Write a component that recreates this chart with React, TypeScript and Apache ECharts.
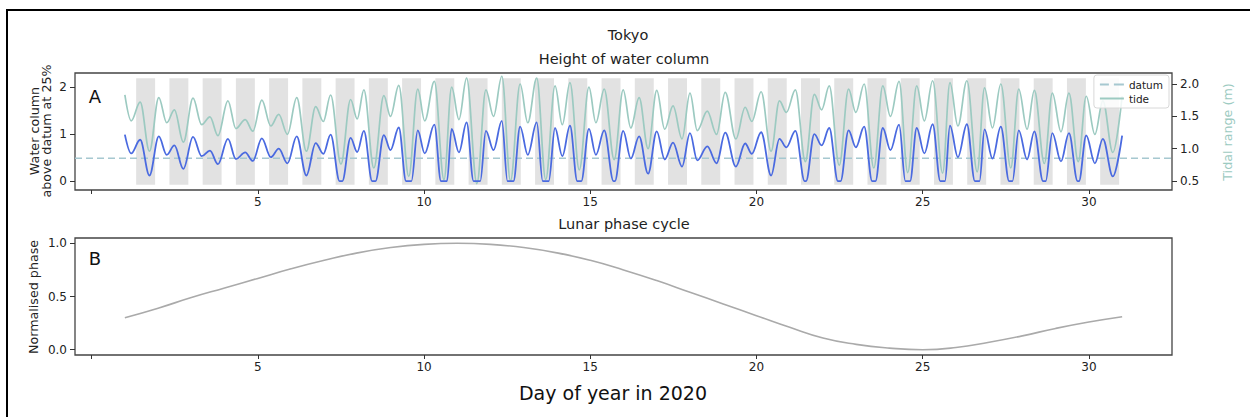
import React, { useEffect, useRef } from "react";
import * as echarts from "echarts";

// ---- data ----
// Tide (m): successive highs and lows [day, value]
const tideExtrema: [number, number][] = [
  [1.00, 1.83], [1.19, 1.43], [1.46, 1.72], [1.74, 0.96],
  [2.02, 1.79], [2.26, 1.40], [2.49, 1.60], [2.76, 1.10],
  [3.05, 1.78], [3.31, 1.37], [3.56, 1.49], [3.80, 1.20],
  [4.10, 1.74], [4.34, 1.31], [4.62, 1.45], [4.85, 1.27],
  [5.12, 1.75], [5.39, 1.35], [5.63, 1.53], [5.89, 1.22],
  [6.17, 1.79], [6.46, 0.96], [6.74, 1.65], [6.97, 1.42],
  [7.19, 1.83], [7.50, 0.76], [7.79, 1.76], [7.99, 1.46],
  [8.19, 1.91], [8.49, 0.70], [8.79, 1.82], [8.99, 1.50],
  [9.24, 1.98], [9.54, 0.57], [9.81, 1.92], [10.02, 1.43],
  [10.31, 2.04], [10.60, 0.52], [10.83, 1.95], [11.05, 1.45],
  [11.28, 2.09], [11.59, 0.46], [11.86, 1.91], [12.09, 1.50],
  [12.34, 2.12], [12.60, 0.50], [12.89, 2.00], [13.12, 1.40],
  [13.39, 2.09], [13.66, 0.52], [13.94, 1.97], [14.16, 1.37],
  [14.39, 2.02], [14.67, 0.67], [14.96, 1.95], [15.17, 1.40],
  [15.42, 1.92], [15.72, 0.83], [15.99, 1.91], [16.22, 1.32],
  [16.47, 1.79], [16.74, 1.00], [17.00, 1.90], [17.24, 1.30],
  [17.49, 1.66], [17.76, 1.15], [18.00, 1.86], [18.22, 1.28],
  [18.52, 1.58], [18.80, 1.22], [19.06, 1.87], [19.38, 1.15],
  [19.66, 1.64], [19.86, 1.42], [20.14, 1.88], [20.44, 0.96],
  [20.69, 1.74], [20.90, 1.56], [21.17, 1.91], [21.47, 0.80],
  [21.74, 1.84], [21.96, 1.60], [22.19, 1.97], [22.49, 0.74],
  [22.77, 1.92], [22.99, 1.56], [23.24, 2.00], [23.53, 0.70],
  [23.80, 1.97], [24.03, 1.50], [24.29, 2.04], [24.55, 0.63],
  [24.82, 1.97], [25.05, 1.43], [25.30, 2.05], [25.60, 0.62],
  [25.82, 2.02], [26.06, 1.35], [26.33, 2.05], [26.64, 0.64],
  [26.86, 1.94], [27.10, 1.32], [27.35, 2.00], [27.65, 0.70],
  [27.89, 1.92], [28.14, 1.30], [28.36, 1.90], [28.66, 0.77],
  [28.90, 1.86], [29.16, 1.26], [29.40, 1.86], [29.68, 0.80],
  [29.92, 1.81], [30.18, 1.22], [30.42, 1.74], [30.72, 0.94],
  [31.00, 1.81],
];

// Water column above datum (m): highs, lows and the flat stretches at zero
const waterColumn: [number, number][] = [
  [1.00, 0.99], [1.19, 0.59], [1.46, 0.88], [1.74, 0.12],
  [2.02, 0.95], [2.26, 0.56], [2.49, 0.76], [2.76, 0.26],
  [3.05, 0.94], [3.31, 0.53], [3.56, 0.65], [3.80, 0.36],
  [4.10, 0.90], [4.34, 0.47], [4.62, 0.61], [4.85, 0.43],
  [5.12, 0.91], [5.39, 0.51], [5.63, 0.69], [5.89, 0.38],
  [6.17, 0.95], [6.46, 0.12], [6.74, 0.81], [6.97, 0.58],
  [7.19, 0.99], [7.46, 0], [7.54, 0], [7.79, 0.92], [7.99, 0.62],
  [8.19, 1.07], [8.44, 0], [8.54, 0], [8.79, 0.98], [8.99, 0.66],
  [9.24, 1.14], [9.46, 0], [9.62, 0], [9.81, 1.08], [10.02, 0.59],
  [10.31, 1.20], [10.51, 0], [10.69, 0], [10.83, 1.11], [11.05, 0.61],
  [11.28, 1.25], [11.49, 0], [11.69, 0], [11.86, 1.07], [12.09, 0.66],
  [12.34, 1.28], [12.51, 0], [12.69, 0], [12.89, 1.16], [13.12, 0.56],
  [13.39, 1.25], [13.57, 0], [13.75, 0], [13.94, 1.13], [14.16, 0.53],
  [14.39, 1.18], [14.61, 0], [14.73, 0], [14.96, 1.11], [15.17, 0.56],
  [15.42, 1.08], [15.70, 0], [15.74, 0], [15.99, 1.07], [16.22, 0.48],
  [16.47, 0.95], [16.74, 0.16], [17.00, 1.06], [17.24, 0.46],
  [17.49, 0.82], [17.76, 0.31], [18.00, 1.02], [18.22, 0.44],
  [18.52, 0.74], [18.80, 0.38], [19.06, 1.03], [19.38, 0.31],
  [19.66, 0.80], [19.86, 0.58], [20.14, 1.04], [20.44, 0.12],
  [20.69, 0.90], [20.90, 0.72], [21.17, 1.07], [21.45, 0], [21.49, 0],
  [21.74, 1.00], [21.96, 0.76], [22.19, 1.13], [22.45, 0], [22.53, 0],
  [22.77, 1.08], [22.99, 0.72], [23.24, 1.16], [23.48, 0], [23.58, 0],
  [23.80, 1.13], [24.03, 0.66], [24.29, 1.20], [24.48, 0], [24.62, 0],
  [24.82, 1.13], [25.05, 0.59], [25.30, 1.21], [25.53, 0], [25.67, 0],
  [25.82, 1.18], [26.06, 0.51], [26.33, 1.21], [26.57, 0], [26.71, 0],
  [26.86, 1.10], [27.10, 0.48], [27.35, 1.16], [27.60, 0], [27.70, 0],
  [27.89, 1.08], [28.14, 0.46], [28.36, 1.06], [28.62, 0], [28.70, 0],
  [28.90, 1.02], [29.16, 0.42], [29.40, 1.02], [29.66, 0], [29.70, 0],
  [29.92, 0.97], [30.18, 0.38], [30.42, 0.90], [30.72, 0.10],
  [31.00, 0.97],
];

const datumLevel = 0.85;
const datumSpan = [-0.5, 32.5];

// Night periods (grey bands), in days
const nightStart = [1.34, 2.34, 3.34, 4.34, 5.34, 6.34, 7.34, 8.34, 9.34, 10.34,
  11.34, 12.34, 13.34, 14.34, 15.34, 16.34, 17.34, 18.34, 19.34, 20.34,
  21.34, 22.34, 23.34, 24.34, 25.34, 26.34, 27.34, 28.34, 29.34, 30.34];
const nightEnd = [1.91, 2.91, 3.91, 4.91, 5.91, 6.91, 7.91, 8.91, 9.91, 10.91,
  11.91, 12.91, 13.91, 14.91, 15.91, 16.91, 17.91, 18.91, 19.91, 20.91,
  21.91, 22.91, 23.91, 24.91, 25.91, 26.91, 27.91, 28.91, 29.91, 30.91];
const nightBottom = -0.075;
const nightTop = 2.186;

// Lunar phase
const phaseDays = [1, 2, 3, 4, 5, 6, 7, 8, 9, 10, 11, 12, 13, 14, 15, 16,
  17, 18, 19, 20, 21, 22, 23, 24, 25, 26, 27, 28, 29, 30, 31];
const phaseValues = [0.30, 0.39, 0.49, 0.58, 0.67, 0.76, 0.84, 0.91, 0.96, 0.99,
  1.00, 0.99, 0.96, 0.91, 0.84, 0.75, 0.65, 0.54, 0.43, 0.32, 0.21, 0.11, 0.05,
  0.015, 0.0, 0.02, 0.07, 0.13, 0.20, 0.26, 0.31];

const xTicks = [0, 5, 10, 15, 20, 25, 30];
const xTickLabels = [5, 10, 15, 20, 25, 30];
const leftTicksA = [0, 1, 2];
const rightTicksA = [0.5, 1.0, 1.5, 2.0];
const ticksB = [0, 0.5, 1.0];

const FONT = "DejaVu Sans";
const TEAL = "#9ccac1";
const DATUM = "#a6c8d0";
const BLUE = "#4a6ae0";
const TICK_FS = 12;
const LABEL_FS = 12.7;
const TITLE_FS = 14.5;

export default function App() {
  const ref = useRef<HTMLDivElement>(null);
  useEffect(() => {
    if (!ref.current) return;
    const chart = echarts.init(ref.current, undefined, { renderer: "svg" });

    const xAxisBase = (gridIndex: number) => ({
      type: "value",
      gridIndex,
      min: -0.5,
      max: 32.5,
      position: "bottom",
      axisLine: { show: false, onZero: false },
      splitLine: { show: false },
      axisTick: { show: true, length: 4, customValues: xTicks, lineStyle: { color: "#333", width: 1 } },
      axisLabel: { customValues: xTickLabels, margin: 6, color: "#222", fontSize: TICK_FS, fontFamily: FONT },
    });

    const yAxisBase = (gridIndex: number, min: number, max: number, position: string, ticks: number[], fmt?: (v: number) => string) => ({
      type: "value", gridIndex, min, max, position,
      axisLine: { show: false, onZero: false }, splitLine: { show: false },
      axisTick: { show: true, length: 5, customValues: ticks, lineStyle: { color: "#333" } },
      axisLabel: { customValues: ticks, margin: 8, color: "#222", fontSize: TICK_FS, fontFamily: FONT, formatter: fmt },
    });

    const bandData = nightStart.map((s, i) => [
      { xAxis: s, yAxis: nightBottom },
      { xAxis: nightEnd[i], yAxis: nightTop },
    ]);

    const oneDec = (v: number) => v.toFixed(1);

    const option: any = {
      animation: false,
      backgroundColor: "#fff",
      grid: [
        { left: 75, top: 73, width: 1097, height: 117, show: true, borderColor: "#444", borderWidth: 1.3, backgroundColor: "transparent" },
        { left: 75, top: 238, width: 1097, height: 117, show: true, borderColor: "#444", borderWidth: 1.3, backgroundColor: "transparent" },
      ],
      xAxis: [xAxisBase(0), xAxisBase(1)],
      yAxis: [
        yAxisBase(0, -0.188, 2.299, "left", leftTicksA),
        yAxisBase(0, 0.36, 2.17, "right", rightTicksA, oneDec),
        yAxisBase(1, -0.05, 1.05, "left", ticksB, oneDec),
      ],
      legend: {
        data: [
          { name: "datum", icon: "path://M0,0h9v2h-9zM14,0h10v2h-10z" },
          { name: "tide", icon: "path://M0,0h24v2h-24z" },
        ],
        orient: "vertical",
        right: 81,
        top: 75,
        itemWidth: 24,
        itemHeight: 2,
        symbolKeepAspect: false,
        itemGap: 3,
        padding: [4, 6, 4, 6],
        borderColor: "#d8d8d8",
        borderWidth: 1,
        borderRadius: 3,
        backgroundColor: "rgba(255,255,255,0.85)",
        textStyle: { fontSize: 10.5, fontFamily: FONT, color: "#222" },
      },
      series: [
        {
          name: "nights",
          type: "line",
          xAxisIndex: 0,
          yAxisIndex: 0,
          data: [],
          z: 1,
          silent: true,
          markArea: {
            silent: true,
            itemStyle: { color: "#e2e2e2", opacity: 1 },
            data: bandData,
          },
        },
        {
          name: "datum",
          type: "line",
          xAxisIndex: 0,
          yAxisIndex: 1,
          data: datumSpan.map((x) => [x, datumLevel]),
          symbol: "none",
          z: 2,
          lineStyle: { color: DATUM, width: 1.5, type: [7, 4] },
          itemStyle: { color: DATUM },
        },
        {
          name: "tide",
          type: "line",
          xAxisIndex: 0,
          yAxisIndex: 1,
          data: tideExtrema,
          symbol: "none",
          smooth: 0.36,
          smoothMonotone: "x",
          z: 3,
          lineStyle: { color: TEAL, width: 1.7 },
          itemStyle: { color: TEAL },
        },
        {
          name: "water column",
          type: "line",
          xAxisIndex: 0,
          yAxisIndex: 0,
          data: waterColumn,
          symbol: "none",
          smooth: 0.36,
          smoothMonotone: "x",
          z: 4,
          lineStyle: { color: BLUE, width: 1.8 },
          itemStyle: { color: BLUE },
        },
        {
          name: "phase",
          type: "line",
          xAxisIndex: 1,
          yAxisIndex: 2,
          data: phaseDays.map((d, i) => [d, phaseValues[i]]),
          symbol: "none",
          smooth: true,
          z: 3,
          lineStyle: { color: "#aaaaaa", width: 1.6 },
          itemStyle: { color: "#aaaaaa" },
        },
      ],
      graphic: [
        { type: "rect", shape: { x: 7, y: 10, width: 1300, height: 450 }, style: { fill: "none", stroke: "#000", lineWidth: 2 }, silent: true },
        { type: "text", x: 628, y: 35, style: { text: "Tokyo", fontSize: TITLE_FS, fontFamily: FONT, fill: "#222", align: "center", verticalAlign: "middle" } },
        { type: "text", x: 624, y: 59, style: { text: "Height of water column", fontSize: TITLE_FS, fontFamily: FONT, fill: "#222", align: "center", verticalAlign: "middle" } },
        { type: "text", x: 624, y: 224, style: { text: "Lunar phase cycle", fontSize: TITLE_FS, fontFamily: FONT, fill: "#222", align: "center", verticalAlign: "middle" } },
        { type: "text", x: 613, y: 393, style: { text: "Day of year in 2020", fontSize: 19, fontFamily: FONT, fill: "#111", align: "center", verticalAlign: "middle" } },
        { type: "text", x: 95, y: 96, style: { text: "A", fontSize: 18, fontFamily: FONT, fill: "#111", align: "center", verticalAlign: "middle" } },
        { type: "text", x: 95, y: 258, style: { text: "B", fontSize: 18, fontFamily: FONT, fill: "#111", align: "center", verticalAlign: "middle" } },
        { type: "text", x: 40.5, y: 131, rotation: Math.PI / 2, style: { text: "Water column\nabove datum at 25%", fontSize: LABEL_FS, lineHeight: 12.5, fontFamily: FONT, fill: "#222", align: "center", verticalAlign: "middle" } },
        { type: "text", x: 1227, y: 132, rotation: Math.PI / 2, style: { text: "Tidal range (m)", fontSize: LABEL_FS, fontFamily: FONT, fill: TEAL, align: "center", verticalAlign: "middle" } },
        { type: "text", x: 33, y: 297, rotation: Math.PI / 2, style: { text: "Normalised phase", fontSize: LABEL_FS, fontFamily: FONT, fill: "#222", align: "center", verticalAlign: "middle" } },
      ],
    };

    chart.setOption(option);
    return () => chart.dispose();
  }, []);

  return (
    <div
      ref={ref}
      style={{ position: "absolute", left: 0, top: 0, width: 1250, height: 417, background: "#fff" }}
    />
  );
}
